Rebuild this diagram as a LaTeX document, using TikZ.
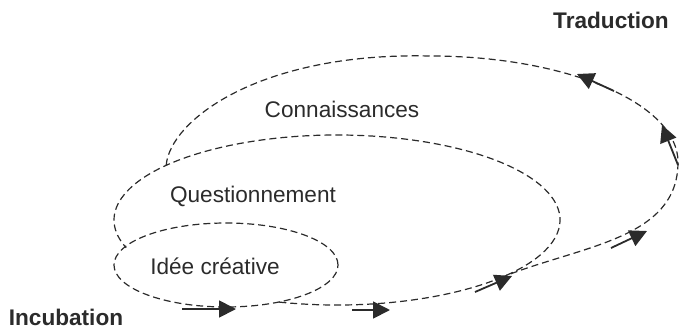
\documentclass[tikz,border=0pt]{standalone}
\usepackage{fontspec}
\setmainfont{Liberation Sans}
\usetikzlibrary{arrows.meta}
\definecolor{ink}{HTML}{2B2B2B}
\tikzset{
  loopline/.style={draw=ink, line width=1.2pt, dash pattern=on 7pt off 4pt},
  flowarrow/.style={draw=ink, line width=1.8pt, -{Triangle[length=17pt,width=17pt]}},
  phase/.style={text=ink, font=\fontsize{22.6}{27}\selectfont, anchor=base, inner sep=0pt},
  stage/.style={text=ink, font=\fontsize{22.6}{27}\selectfont\bfseries, anchor=base, inner sep=0pt}
}
\begin{document}
\begin{tikzpicture}[x=1pt,y=1pt]
\useasboundingbox (0,0) rectangle (680,-330);

% centres of the two closed loops
\coordinate (mid) at (337,-220);
\coordinate (small) at (226,-265);

% innermost loop
\draw[loopline] (small) ellipse [x radius=112, y radius=42];

% middle loop, its part inside the innermost loop left out
\draw[loopline] ([shift={(-105:223 and 85)}]mid) arc [start angle=-105, end angle=199, x radius=223, y radius=85];

% outer loop, from the top of the middle loop round to its bottom
\coordinate (outstart) at ([shift={(140:223 and 85)}]mid);
\coordinate (outend) at ([shift={(-43:223 and 85)}]mid);
\draw[loopline] (outstart) .. controls (170,-120) and (260,-52) .. (430,-56)
  .. controls (567,-56) and (678,-103.5) .. (678,-162)
  .. controls (678,-240) and (580,-245.4) .. (outend);

% arrows along the spiral
\coordinate (a1s) at (182,-309); \coordinate (a1e) at (236,-309);
\coordinate (a2s) at (352,-310); \coordinate (a2e) at (390,-310);
\coordinate (a3s) at (475,-292); \coordinate (a3e) at (512,-276);
\coordinate (a4s) at (611,-248); \coordinate (a4e) at (647,-231);
\coordinate (a5s) at (678,-165); \coordinate (a5e) at (662,-125);
\coordinate (a6s) at (614,-91);  \coordinate (a6e) at (577,-74);
\draw[flowarrow] (a1s) -- (a1e);
\draw[flowarrow] (a2s) -- (a2e);
\draw[flowarrow] (a3s) -- (a3e);
\draw[flowarrow] (a4s) -- (a4e);
\draw[flowarrow] (a5s) -- (a5e);
\draw[flowarrow] (a6s) -- (a6e);

% labels
\node[phase] (conn) at (342,-117) {Connaissances};
\node[phase] (quest) at (253,-202) {Questionnement};
\node[phase] (idee) at (215,-274) {Idée créative};
\node[stage] (trad) at (611,-28) {Traduction};
\node[stage] (incub) at (66,-325) {Incubation};
\end{tikzpicture}
\end{document}
